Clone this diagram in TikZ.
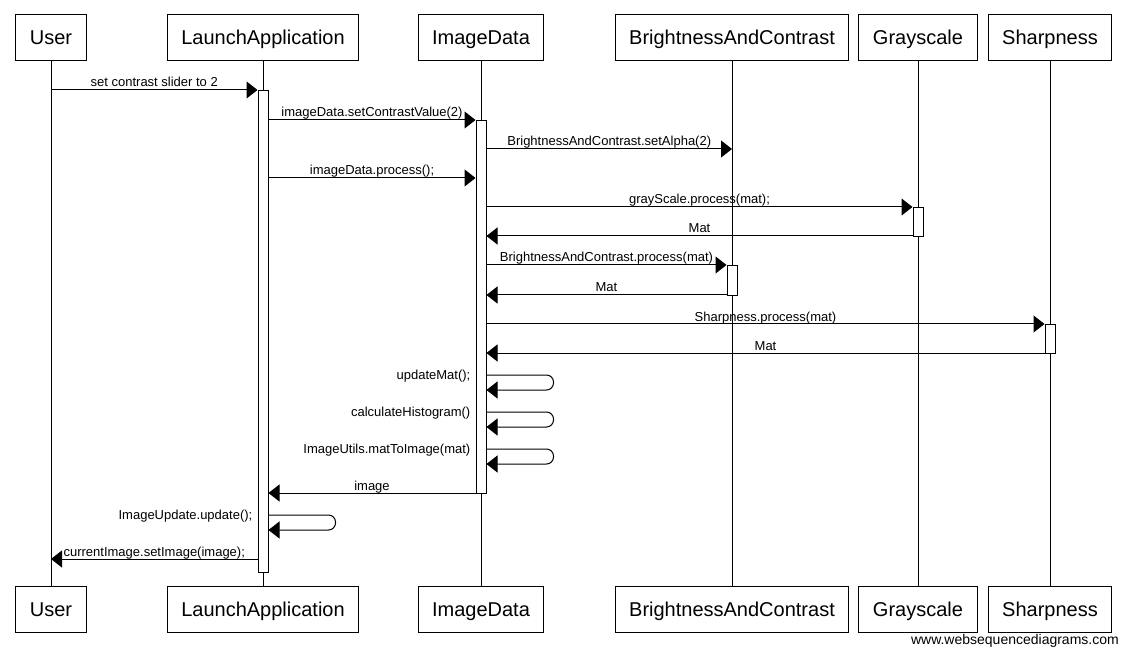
\documentclass[tikz,border=0pt]{standalone}
\usepackage{fontspec}
\setmainfont{Liberation Sans}
\usetikzlibrary{arrows.meta}

\begin{document}
\begin{tikzpicture}[x=1pt,y=-1pt,>={Triangle[length=11pt,width=17pt]},
	obj/.style={draw,line width=1pt,minimum height=46pt,inner xsep=14pt,text height=15pt,text depth=1pt,font=\fontsize{20}{24}\selectfont},
	act/.style={draw,fill=white,line width=1pt,minimum width=10pt,inner sep=0pt,anchor=north},
	msg/.style={->,line width=1pt},
	lbl/.style={midway,above=2.5pt,inner sep=0pt,text depth=0pt,font=\fontsize{13}{15}\selectfont},
	slbl/.style={anchor=east,xshift=-5pt,yshift=-1.5pt,inner sep=0pt,font=\fontsize{13}{15}\selectfont}]
			\useasboundingbox (0,0) rectangle (1128,655);
			\node[obj] (user) at (51,38) {User};
			\node[obj] (la) at (263,38) {LaunchApplication};
			\node[obj] (id) at (481,38) {ImageData};
			\node[obj] (bc) at (732,38) {BrightnessAndContrast};
			\node[obj] (gs) at (918,38) {Grayscale};
			\node[obj] (sh) at (1050,38) {Sharpness};
			\node[obj] (userB) at (51,609) {User};
			\node[obj] (laB) at (263,609) {LaunchApplication};
			\node[obj] (idB) at (481,609) {ImageData};
			\node[obj] (bcB) at (732,609) {BrightnessAndContrast};
			\node[obj] (gsB) at (918,609) {Grayscale};
			\node[obj] (shB) at (1050,609) {Sharpness};
			\draw[line width=1pt] (user) -- (userB);
			\draw[line width=1pt] (la) -- (laB);
			\draw[line width=1pt] (id) -- (idB);
			\draw[line width=1pt] (bc) -- (bcB);
			\draw[line width=1pt] (gs) -- (gsB);
			\draw[line width=1pt] (sh) -- (shB);
			\node[act,minimum height=482pt] (laAct) at (la |- 0,90) {};
			\node[act,minimum height=373pt] (idAct) at (id |- 0,120) {};
			\node[act,minimum height=29pt] (gsAct) at (gs |- 0,207) {};
			\node[act,minimum height=30pt] (bcAct) at (bc |- 0,265) {};
			\node[act,minimum height=29pt] (shAct) at (sh |- 0,324) {};
			\draw[msg] (user |- 0,90) -- (laAct.west |- 0,90) node[lbl] (m1) {set contrast slider to 2};
			\draw[msg] (laAct.east |- 0,120) -- (idAct.west |- 0,120) node[lbl] (m2) {imageData.setContrastValue(2)};
			\draw[msg] (idAct.east |- 0,149) -- (bc |- 0,149) node[lbl] (m3) {BrightnessAndContrast.setAlpha(2)};
			\draw[msg] (laAct.east |- 0,178) -- (idAct.west |- 0,178) node[lbl] (m4) {imageData.process();};
			\draw[msg] (idAct.east |- 0,207) -- (gsAct.west |- 0,207) node[lbl] (m5) {grayScale.process(mat);};
			\draw[msg] (gsAct.west |- 0,236) -- (idAct.east |- 0,236) node[lbl] (m6) {Mat};
			\draw[msg] (idAct.east |- 0,265) -- (bcAct.west |- 0,265) node[lbl] (m7) {BrightnessAndContrast.process(mat)};
			\draw[msg] (bcAct.west |- 0,295) -- (idAct.east |- 0,295) node[lbl] (m8) {Mat};
			\draw[msg] (idAct.east |- 0,324) -- (shAct.west |- 0,324) node[lbl] (m9) {Sharpness.process(mat)};
			\draw[msg] (shAct.west |- 0,353) -- (idAct.east |- 0,353) node[lbl] (m10) {Mat};
			\draw[msg,rounded corners=7pt] (idAct.east |- 0,375) -| ++(67,15) -- (idAct.east |- 0,390);
			\node[slbl] (s1) at (idAct.west |- 0,375) {updateMat();};
			\draw[msg,rounded corners=7pt] (idAct.east |- 0,412) -| ++(67,15) -- (idAct.east |- 0,427);
			\node[slbl] (s2) at (idAct.west |- 0,412) {calculateHistogram()};
			\draw[msg,rounded corners=7pt] (idAct.east |- 0,449) -| ++(67,15) -- (idAct.east |- 0,464);
			\node[slbl] (s3) at (idAct.west |- 0,449) {ImageUtils.matToImage(mat)};
			\draw[msg] (idAct.west |- 0,493) -- (laAct.east |- 0,493) node[lbl] (m11) {image};
			\draw[msg,rounded corners=7pt] (laAct.east |- 0,515) -| ++(67,15) -- (laAct.east |- 0,530);
			\node[slbl] (s4) at (laAct.west |- 0,515) {ImageUpdate.update();};
			\draw[msg] (laAct.west |- 0,559) -- (user |- 0,559) node[lbl] (m12) {currentImage.setImage(image);};
			\node[anchor=east,inner sep=0pt,font=\fontsize{14}{16}\selectfont] (wsd) at (1119,641) {www.websequencediagrams.com};
			\end{tikzpicture}
\end{document}
